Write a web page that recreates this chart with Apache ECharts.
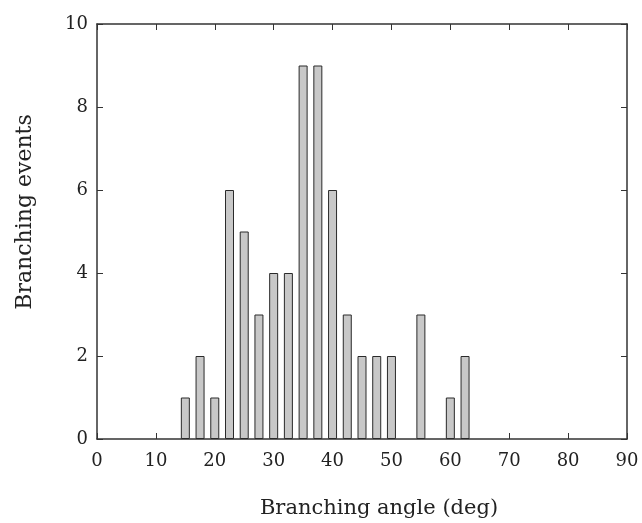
<!DOCTYPE html>
<html><head><meta charset="utf-8">
<script src="https://cdn.jsdelivr.net/npm/echarts@6/dist/echarts.min.js"></script>
<style>html,body{margin:0;padding:0;background:#fff}#c{width:642px;height:523px}</style>
</head><body><div id="c"></div>
<script>
const angles = [15, 17.5, 20, 22.5, 25, 27.5, 30, 32.5, 35, 37.5, 40, 42.5, 45, 47.5, 50, 55, 60, 62.5];
const counts = [1, 2, 1, 6, 5, 3, 4, 4, 9, 9, 6, 3, 2, 2, 2, 3, 1, 2];
const xTicks = [0, 10, 20, 30, 40, 50, 60, 70, 80, 90];
const yTicks = [0, 2, 4, 6, 8, 10];
const xName = 'Branching angle (deg)';
const yName = 'Branching events';

const FONT = 'DejaVu Serif';
const axisCol = '#333';
const txtCol = '#222';
const chart = echarts.init(document.getElementById('c'));
const common = {
  axisLine: {show: true, onZero: false, lineStyle: {color: axisCol, width: 1.5}},
  axisTick: {show: true, inside: true, length: 6, lineStyle: {color: axisCol, width: 1}},
  splitLine: {show: false}
};
chart.setOption({
  animation: false,
  grid: {left: 97, right: 15, top: 24, bottom: 84, containLabel: false},
  xAxis: [
    Object.assign({type: 'value', position: 'bottom', min: xTicks[0], max: xTicks[xTicks.length-1], interval: 10,
      axisLabel: {fontFamily: FONT, fontSize: 18, color: txtCol, margin: 13}}, common),
    Object.assign({type: 'value', position: 'top', min: xTicks[0], max: xTicks[xTicks.length-1], interval: 10,
      axisLabel: {show: false}}, common)
  ],
  yAxis: [
    Object.assign({type: 'value', position: 'left', min: yTicks[0], max: yTicks[yTicks.length-1], interval: 2,
      axisLabel: {fontFamily: FONT, fontSize: 18, color: txtCol, margin: 9}}, common),
    Object.assign({type: 'value', position: 'right', min: yTicks[0], max: yTicks[yTicks.length-1], interval: 2,
      axisLabel: {show: false}}, common)
  ],
  graphic: [{
    type: 'text', x: 25, y: 212, rotation: Math.PI / 2,
    style: {text: yName, fontFamily: FONT, fontSize: 22, fill: txtCol, align: 'center', verticalAlign: 'middle'}
  }, {
    type: 'text', x: 379, y: 509,
    style: {text: xName, fontFamily: FONT, fontSize: 21, fill: txtCol, align: 'center', verticalAlign: 'middle'}
  }],
  series: [{
    type: 'bar', xAxisIndex: 0, yAxisIndex: 0,
    barWidth: 9,
    data: angles.map((a, i) => [a, counts[i]]),
    itemStyle: {color: '#c8c8c8', borderColor: '#2a2a2a', borderWidth: 1}
  }]
});
</script></body></html>
